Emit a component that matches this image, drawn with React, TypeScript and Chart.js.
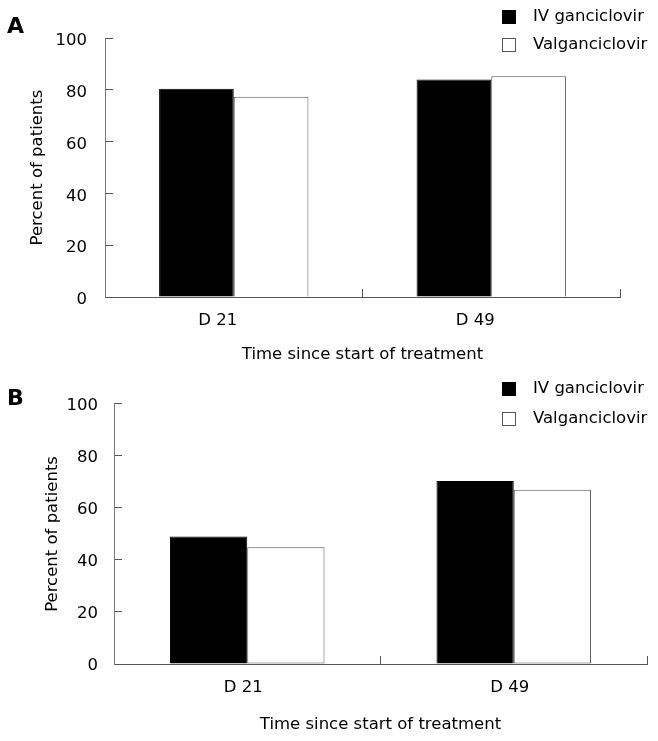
import React, { useEffect, useRef } from 'react';
import { Chart, registerables } from 'chart.js';

Chart.register(...registerables);

const categories = ['D 21', 'D 49'];
const seriesNames = ['IV ganciclovir', 'Valganciclovir'];
const panelA_IV = [80.4, 84.0];
const panelA_Val = [77.3, 85.2];
const panelB_IV = [49.0, 70.4];
const panelB_Val = [44.9, 67.0];
const yMin = 0;
const yMax = 100;
const yStep = 20;
const xTitle = 'Time since start of treatment';
const yTitle = 'Percent of patients';

const FONT = '"DejaVu Sans", Verdana, sans-serif';
const FONT_SIZE = 16.5;

type PanelCfg = {
  letter: string;
  iv: number[];
  val: number[];
  height: number;
  padTop: number;
  padRight: number;
  yWidth: number;
  xHeight: number;
  yTitlePad: number;
  yTickPad: number;
  yLabelOffset: number;
  xTickPad: number;
  xTitlePad: number;
  labelOffset: number;
  legendTop: number;
  rowGap: number;
  letterBaseline: number;
  valSkip: any;
};

const overlayPlugin = {
  id: 'overlay',
  afterDraw(chart: any, _args: any, opts: any) {
    const ctx = chart.ctx;
    ctx.save();
    ctx.font = `bold 22px ${FONT}`;
    ctx.fillStyle = '#000';
    ctx.textAlign = 'left';
    ctx.textBaseline = 'alphabetic';
    ctx.fillText(opts.letter, 7, opts.letterBaseline);
    chart.data.datasets.forEach((ds: any, i: number) => {
      const y = opts.legendTop + i * opts.rowGap;
      const x = opts.legendX;
      ctx.fillStyle = ds.backgroundColor;
      ctx.fillRect(x, y, 13, 13);
      ctx.strokeStyle = ds.borderColor;
      ctx.lineWidth = 1;
      ctx.strokeRect(x + 0.5, y + 0.5, 13, 13);
      ctx.font = `${FONT_SIZE}px ${FONT}`;
      ctx.fillStyle = '#000';
      ctx.textBaseline = 'middle';
      ctx.fillText(ds.label, x + 31, y + 7);
    });
    ctx.restore();
  },
};

function Panel({ cfg }: { cfg: PanelCfg }) {
  const ref = useRef<HTMLCanvasElement | null>(null);
  useEffect(() => {
    if (!ref.current) return;
    const font = { family: FONT, size: FONT_SIZE };
    const chart = new Chart(ref.current, {
      type: 'bar',
      data: {
        labels: categories,
        datasets: [
          {
            label: seriesNames[0],
            data: cfg.iv,
            backgroundColor: '#000',
            borderColor: '#000',
            borderWidth: 1,
            categoryPercentage: 0.58,
            barPercentage: 1,
          },
          {
            label: seriesNames[1],
            data: cfg.val,
            backgroundColor: '#fff',
            borderColor: '#555',
            borderWidth: 1,
            borderSkipped: cfg.valSkip,
            categoryPercentage: 0.58,
            barPercentage: 1,
          },
        ],
      },
      options: {
        responsive: false,
        animation: false,
        devicePixelRatio: 1,
        layout: { padding: { left: 0, top: cfg.padTop, right: cfg.padRight, bottom: 0 } },
        plugins: {
          legend: { display: false },
          tooltip: { enabled: false },
          overlay: {
            letter: cfg.letter,
            letterBaseline: cfg.letterBaseline,
            legendTop: cfg.legendTop,
            rowGap: cfg.rowGap,
            legendX: 502,
          },
        } as any,
        scales: {
          x: {
            type: 'category',
            offset: true,
            grid: {
              display: true,
              offset: true,
              drawOnChartArea: false,
              drawTicks: true,
              tickLength: -8,
              color: '#555',
            },
            border: { display: true, color: '#555' },
            ticks: {
              font,
              color: '#000',
              padding: cfg.xTickPad,
              labelOffset: cfg.labelOffset,
              maxRotation: 0,
              autoSkip: false,
            },
            title: {
              display: true,
              text: xTitle,
              font,
              color: '#000',
              padding: { top: 0, bottom: cfg.xTitlePad },
            },
            afterFit: (s: any) => {
              s.height = cfg.xHeight;
            },
          },
          y: {
            min: yMin,
            max: yMax,
            grid: {
              display: true,
              drawOnChartArea: false,
              drawTicks: true,
              tickLength: -8,
              color: '#555',
            },
            border: { display: true, color: '#777' },
            ticks: {
              stepSize: yStep,
              font,
              color: '#000',
              padding: cfg.yTickPad,
              labelOffset: cfg.yLabelOffset,
            },
            title: {
              display: true,
              text: yTitle,
              font,
              color: '#000',
              padding: { top: cfg.yTitlePad, bottom: 0 },
            },
            afterFit: (s: any) => {
              s.width = cfg.yWidth;
            },
          },
        },
      } as any,
      plugins: [overlayPlugin as any],
    });
    return () => chart.destroy();
  }, [cfg]);
  return (
    <canvas
      ref={ref}
      width={658}
      height={cfg.height}
      style={{ display: 'block', width: 658, height: cfg.height }}
    />
  );
}

const panelA: PanelCfg = {
  letter: 'A',
  iv: panelA_IV,
  val: panelA_Val,
  height: 370,
  padTop: 38,
  padRight: 38,
  yWidth: 105,
  xHeight: 73,
  yTitlePad: 28,
  yTickPad: 26,
  yLabelOffset: 3,
  xTickPad: 22,
  xTitlePad: 5,
  labelOffset: -16,
  legendTop: 10,
  rowGap: 28,
  letterBaseline: 33,
  valSkip: 'start',
};

const panelB: PanelCfg = {
  letter: 'B',
  iv: panelB_IV,
  val: panelB_Val,
  height: 371,
  padTop: 21,
  padRight: 11,
  yWidth: 114,
  xHeight: 77,
  yTitlePad: 43,
  yTickPad: 24,
  yLabelOffset: 2,
  xTickPad: 22,
  xTitlePad: 6,
  labelOffset: -4,
  legendTop: 12,
  rowGap: 30,
  letterBaseline: 35,
  valSkip: false,
};

export default function App() {
  return (
    <div
      style={{
        position: 'absolute',
        left: 0,
        top: 0,
        width: 658,
        height: 741,
        background: '#fff',
      }}
    >
      <Panel cfg={panelA} />
      <Panel cfg={panelB} />
    </div>
  );
}
